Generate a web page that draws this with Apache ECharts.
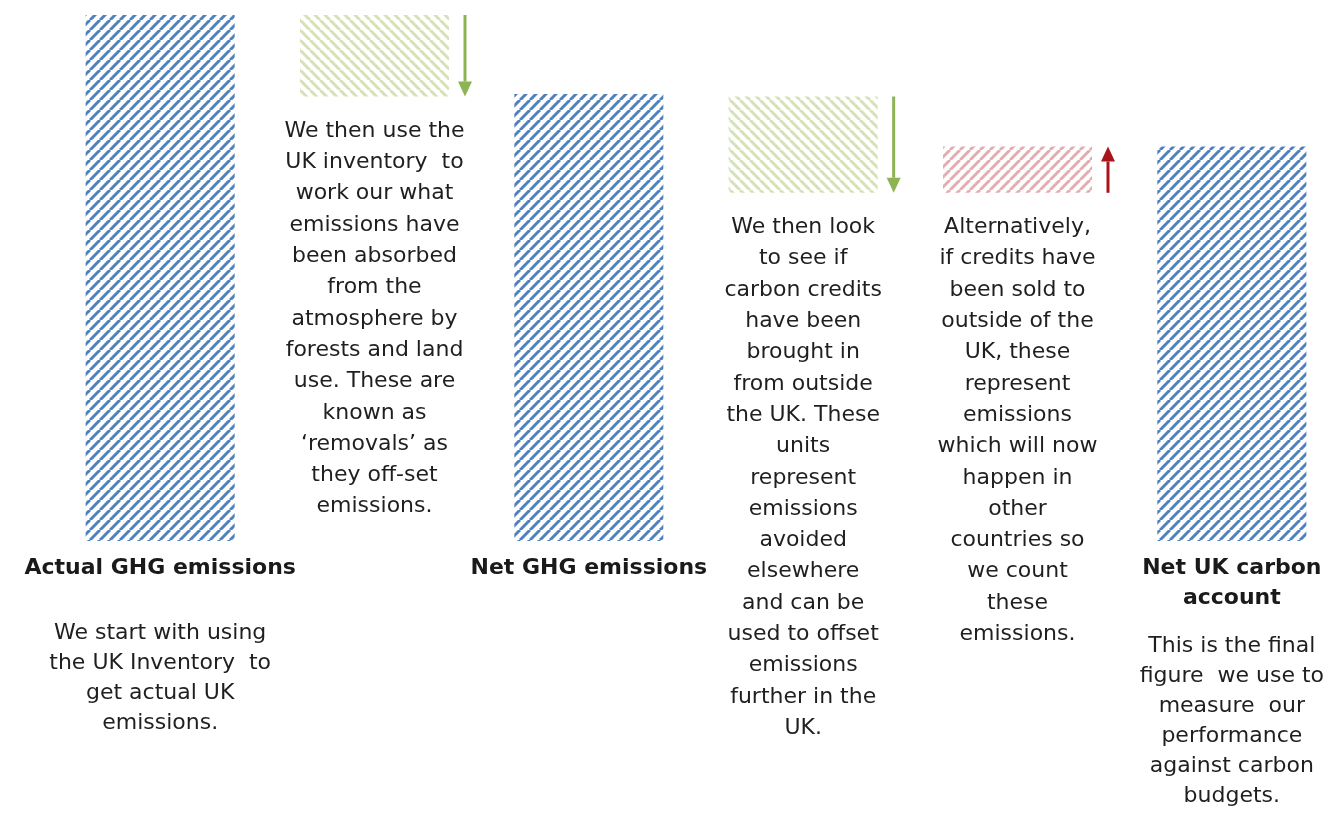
<!DOCTYPE html>
<html>
<head>
<meta charset="utf-8">
<title>Net UK carbon account</title>
<script src="https://cdn.jsdelivr.net/npm/echarts@6/dist/echarts.min.js"></script>
<style>
  html, body { margin: 0; padding: 0; background: #fff; }
  #chart { width: 1339px; height: 819px; }
</style>
</head>
<body>
<div id="chart"></div>
<script>
// steps of the account, left to right
var categories = ['Actual GHG emissions', 'Removals', 'Net GHG emissions', 'Credits bought', 'Credits sold', 'Net UK carbon account'];
var stepKind = ['total', 'down', 'total', 'down', 'up', 'total'];
var barLow = [0, 84.5, 0, 66.2, 66.2, 0];
var barHigh = [100, 100, 85, 84.5, 75, 75];

// texts under each step
var stepNames = ['Actual GHG emissions', '', 'Net GHG emissions', '', '', 'Net UK carbon\naccount'];
var stepNotes = [
  'We start with using\nthe UK Inventory  to\nget actual UK\nemissions.',
  'We then use the\nUK inventory  to\nwork our what\nemissions have\nbeen absorbed\nfrom the\natmosphere by\nforests and land\nuse. These are\nknown as\n\u2018removals\u2019 as\nthey off-set\nemissions.',
  '',
  'We then look\nto see if\ncarbon credits\nhave been\nbrought in\nfrom outside\nthe UK. These\nunits\nrepresent\nemissions\navoided\nelsewhere\nand can be\nused to offset\nemissions\nfurther in the\nUK.',
  'Alternatively,\nif credits have\nbeen sold to\noutside of the\nUK, these\nrepresent\nemissions\nwhich will now\nhappen in\nother\ncountries so\nwe count\nthese\nemissions.',
  'This is the final\nfigure  we use to\nmeasure  our\nperformance\nagainst carbon\nbudgets.'
];

var BAR_WIDTH = 149;
var FONT = 'DejaVu Sans';

// striped fill like the original slide
function hatch(color, rising) {
  var c = document.createElement('canvas');
  c.width = 10;
  c.height = 10;
  var ctx = c.getContext('2d');
  ctx.strokeStyle = color;
  ctx.lineWidth = 3;
  for (var k = -1; k <= 1; k++) {
    ctx.beginPath();
    if (rising) {
      ctx.moveTo(k * 10, 10);
      ctx.lineTo(k * 10 + 10, 0);
    } else {
      ctx.moveTo(k * 10, 0);
      ctx.lineTo(k * 10 + 10, 10);
    }
    ctx.stroke();
  }
  return { image: c, repeat: 'repeat' };
}

var fills = {
  total: hatch('#4f81bd', true),
  down: hatch('#d5e1b6', false),
  up: hatch('#e3acb0', true)
};
var arrowColors = { down: '#8db353', up: '#a81419' };

var baseData = [];
var stepData = [];
var arrowData = [];
var arrowKinds = [];
for (var i = 0; i < categories.length; i++) {
  var kind = stepKind[i];
  baseData.push(barLow[i]);
  stepData.push({
    value: barHigh[i] - barLow[i],
    itemStyle: { color: fills[kind] },
    label: { distance: kind === 'total' ? 12 : 19 }
  });
  if (kind === 'down') {
    arrowData.push([i, barHigh[i], barLow[i]]);
    arrowKinds.push(kind);
  } else if (kind === 'up') {
    arrowData.push([i, barLow[i], barHigh[i]]);
    arrowKinds.push(kind);
  }
}

function labelText(idx) {
  var parts = [];
  var name = stepNames[idx];
  var note = stepNotes[idx];
  if (name) {
    parts.push('{nm|' + name + '}');
  }
  if (name && note) {
    parts.push(name.indexOf('\n') >= 0 ? '{gap2| }' : '{gap1| }');
  }
  if (note) {
    parts.push((stepKind[idx] === 'total' ? '{tt|' : '{tx|') + note + '}');
  }
  return parts.join('\n');
}

var chart = echarts.init(document.getElementById('chart'));

chart.setOption({
  backgroundColor: '#fff',
  animation: false,
  grid: {
    left: 53,
    right: 0,
    top: 15,
    bottom: 278
  },
  xAxis: {
    type: 'category',
    data: categories,
    axisLine: { show: false },
    axisTick: { show: false },
    axisLabel: { show: false },
    splitLine: { show: false }
  },
  yAxis: {
    type: 'value',
    min: 0,
    max: 100,
    show: false
  },
  series: [{
    name: 'base',
    type: 'bar',
    stack: 'steps',
    barWidth: BAR_WIDTH,
    silent: true,
    itemStyle: { color: 'transparent' },
    data: baseData
  }, {
    name: 'step',
    type: 'bar',
    stack: 'steps',
    barWidth: BAR_WIDTH,
    data: stepData,
    label: {
      show: true,
      position: 'bottom',
      align: 'center',
      formatter: function (p) {
        return labelText(p.dataIndex);
      },
      rich: {
        nm: { fontFamily: FONT, fontWeight: 'bold', fontSize: 22, lineHeight: 30, color: '#1a1a1a', align: 'center' },
        gap1: { fontSize: 4, lineHeight: 35, align: 'center' },
        gap2: { fontSize: 4, lineHeight: 18, align: 'center' },
        tt: { fontFamily: FONT, fontSize: 22, lineHeight: 30, color: '#1f1f1f', align: 'center' },
        tx: { fontFamily: FONT, fontSize: 22, lineHeight: 31.3, color: '#1f1f1f', align: 'center' }
      }
    }
  }, {
    name: 'arrows',
    type: 'custom',
    silent: true,
    clip: false,
    encode: { x: 0, y: [1, 2] },
    data: arrowData,
    renderItem: function (params, api) {
      var idx = api.value(0);
      var p0 = api.coord([idx, api.value(1)]);
      var p1 = api.coord([idx, api.value(2)]);
      var x = p0[0] + BAR_WIDTH / 2 + 16;
      var dir = p1[1] > p0[1] ? 1 : -1;
      var head = 15;
      var color = arrowColors[arrowKinds[params.dataIndex]];
      return {
        type: 'group',
        children: [{
          type: 'line',
          shape: { x1: x, y1: p0[1], x2: x, y2: p1[1] - dir * head },
          style: { stroke: color, lineWidth: 3 }
        }, {
          type: 'polygon',
          shape: { points: [[x - 7, p1[1] - dir * head], [x + 7, p1[1] - dir * head], [x, p1[1]]] },
          style: { fill: color }
        }]
      };
    }
  }]
});
</script>
</body>
</html>
